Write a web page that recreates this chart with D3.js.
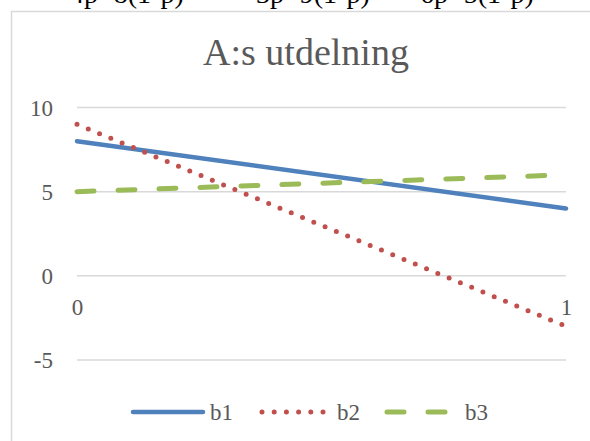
<!DOCTYPE html>
<html>
<head>
<meta charset="utf-8">
<script src="https://cdn.jsdelivr.net/npm/d3@7"></script>
<style>
  html, body { margin: 0; padding: 0; background: #fff; }
  svg { display: block; }
</style>
</head>
<body>
<div id="chart"></div>
<script>
// A:s utdelning - tre linjer över p = 0..1

// data
const pValues = [0, 1];
const b1 = [8, 4];
const b2 = [9, -3];
const b3 = [5, 6];
const seriesNames = ['b1', 'b2', 'b3'];
const yTicks = [10, 5, 0, -5];
const headerParts = ['4p+8(1-p)', '=', '3p+9(1-p)', '=', '6p+5(1-p)'];
const title = 'A:s utdelning';

// utseende
const W = 590, H = 441;
const serif = '"Liberation Serif", "DejaVu Serif", serif';
const textGray = '#595959';
const gridGray = '#d9d9d9';
const styles = {
    b1: { color: '#4f81bd', width: 4.5, dash: null },
    b2: { color: '#c0504d', width: 5, dash: '0,12.2' },
    b3: { color: '#9bbb59', width: 5, dash: '17,24' }
};

const svg = d3.select('#chart').append('svg')
    .attr('width', W)
    .attr('height', H);

svg.append('rect').attr('width', W).attr('height', H).attr('fill', '#fff');

// ekvationsrad ovanför (avklippt i originalet)
const headerX = [70, 222, 256, 392, 420];
headerParts.forEach((t, i) => {
    svg.append('text')
        .attr('x', headerX[i])
        .attr('y', 3)
        .attr('font-family', serif)
        .attr('font-size', 28)
        .attr('fill', '#000')
        .text(t);
});

// diagramram
svg.append('rect')
    .attr('x', 11.5)
    .attr('y', 11.5)
    .attr('width', W + 20)
    .attr('height', H + 20)
    .attr('fill', 'none')
    .attr('stroke', gridGray)
    .attr('stroke-width', 1.5);

// titel
svg.append('text')
    .attr('x', 306)
    .attr('y', 65)
    .attr('text-anchor', 'middle')
    .attr('font-family', serif)
    .attr('font-size', 38)
    .attr('fill', textGray)
    .text(title);

// skalor
const x = d3.scaleLinear().domain([0, 1]).range([77, 566]);
const y = d3.scaleLinear().domain([-5, 10]).range([360, 107.5]);

// rutnät
svg.append('g')
    .selectAll('line')
    .data(yTicks)
    .enter()
    .append('line')
    .attr('x1', x(0))
    .attr('x2', x(1))
    .attr('y1', d => y(d))
    .attr('y2', d => y(d))
    .attr('stroke', gridGray)
    .attr('stroke-width', 1.5);

// y-axel
const yAxis = svg.append('g')
    .attr('transform', `translate(${x(0) - 24},0)`)
    .call(d3.axisLeft(y).tickValues(yTicks).tickSize(0).tickPadding(0).tickFormat(d => String(d)));
yAxis.select('.domain').remove();
yAxis.selectAll('text')
    .attr('font-family', serif)
    .attr('font-size', 23)
    .attr('fill', textGray)
    .attr('dy', '0.33em');

// x-axel vid y = 0
const xAxis = svg.append('g')
    .attr('transform', `translate(0,${y(0)})`)
    .call(d3.axisBottom(x).tickValues(pValues).tickSize(0).tickPadding(0).tickFormat(d => String(d)));
xAxis.select('.domain').remove();
xAxis.selectAll('text')
    .attr('font-family', serif)
    .attr('font-size', 23)
    .attr('fill', textGray)
    .attr('dy', '1.7em');

// linjer
const seriesData = { b1, b2, b3 };
const line = d3.line()
    .x((d, i) => x(pValues[i]))
    .y(d => y(d));

seriesNames.forEach(name => {
    const s = styles[name];
    svg.append('path')
        .datum(seriesData[name])
        .attr('d', line)
        .attr('fill', 'none')
        .attr('stroke', s.color)
        .attr('stroke-width', s.width)
        .attr('stroke-linecap', 'round')
        .attr('stroke-dasharray', s.dash);
});

// förklaring
const legendY = 412;
const legendItems = [
    { x1: 133, x2: 203, tx: 210 },
    { x1: 262, x2: 324, tx: 337 },
    { x1: 387, x2: 452, tx: 465 }
];
seriesNames.forEach((name, i) => {
    const s = styles[name];
    const it = legendItems[i];
    svg.append('line')
        .attr('x1', it.x1)
        .attr('x2', it.x2)
        .attr('y1', legendY)
        .attr('y2', legendY)
        .attr('stroke', s.color)
        .attr('stroke-width', s.width)
        .attr('stroke-linecap', 'round')
        .attr('stroke-dasharray', s.dash);
    svg.append('text')
        .attr('x', it.tx)
        .attr('y', legendY + 8)
        .attr('font-family', serif)
        .attr('font-size', 23)
        .attr('fill', textGray)
        .text(name);
});
</script>
</body>
</html>
